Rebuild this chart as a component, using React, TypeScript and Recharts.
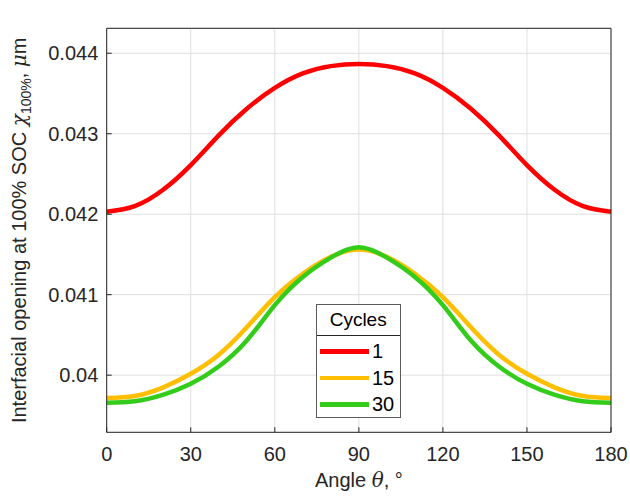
import { LineChart, Line, XAxis, YAxis, CartesianGrid, Legend, Label } from 'recharts'

const angles = [0, 10, 20, 30, 40, 50, 60, 70, 80, 90, 100, 110, 120, 130, 140, 150, 160, 170, 180]

const cycle1 = [
  0.04203, 0.0421, 0.0423, 0.04261, 0.04298, 0.04331, 0.04357, 0.04375, 0.04384, 0.043865,
  0.04384, 0.04375, 0.04357, 0.04331, 0.04298, 0.04261, 0.0423, 0.0421, 0.04203,
]
const cycle15 = [
  0.039717, 0.039742, 0.039846, 0.040017, 0.040254, 0.040595, 0.04097, 0.04126, 0.04147, 0.04156,
  0.04147, 0.04126, 0.04097, 0.040595, 0.040254, 0.040017, 0.039846, 0.039742, 0.039717,
]
const cycle30 = [
  0.039658, 0.039675, 0.039754, 0.039892, 0.040108, 0.04043, 0.04087, 0.04122, 0.04146, 0.041589,
  0.04146, 0.04122, 0.04087, 0.04043, 0.040108, 0.039892, 0.039754, 0.039675, 0.039658,
]

const xTicks = [0, 30, 60, 90, 120, 150, 180]
const yTicks = [0.04, 0.041, 0.042, 0.043, 0.044]

const series = [
  { key: 'c1', name: '1', color: '#FF0000' },
  { key: 'c15', name: '15', color: '#FFBF00' },
  { key: 'c30', name: '30', color: '#33CC1A' },
]

const data = angles.map((a, i) => ({ angle: a, c1: cycle1[i], c15: cycle15[i], c30: cycle30[i] }))

const FONT = '"Liberation Sans", Arial, Helvetica, sans-serif'
const AX = '#262626'

const renderLegend = (props: any) => {
  const { payload } = props
  return (
    <div
      style={{
        width: 85,
        height: 114,
        boxSizing: 'border-box',
        border: '1px solid #5a5a5a',
        background: '#fff',
        fontFamily: FONT,
        color: '#000',
      }}
    >
      <div
        style={{
          height: 30,
          lineHeight: '30px',
          fontSize: 19,
          textAlign: 'center',
          borderBottom: '1px solid #262626',
        }}
      >
        Cycles
      </div>
      <div style={{ paddingTop: 2 }}>
        {(payload || []).map((p: any) => (
          <div key={p.value} style={{ display: 'flex', alignItems: 'center', height: 26.5 }}>
            <div style={{ marginLeft: 3.3, width: 49, height: 4.5, background: p.color }} />
            <span style={{ marginLeft: 3, fontSize: 20 }}>{p.value}</span>
          </div>
        ))}
      </div>
    </div>
  )
}

export default function App() {
  return (
    <div style={{ position: 'absolute', left: 0, top: 0, background: '#fff' }}>
      <LineChart
        width={630}
        height={497}
        data={data}
        margin={{ top: 27.3, right: 18, bottom: 34.7, left: 0 }}
        style={{ fontFamily: FONT }}
      >
        <CartesianGrid stroke="#dfdfdf" strokeWidth={1} />
        <XAxis
          dataKey="angle"
          type="number"
          domain={[0, 180]}
          ticks={xTicks}
          interval={0}
          height={30}
          tickSize={-5}
          tickMargin={19.4}
          stroke={AX}
          tick={{ fill: AX, fontSize: 20 }}
        >
          <Label
            content={() => (
              <text x={358.9} y={487} textAnchor="middle" fontSize={20} fill={AX} fontFamily={FONT}>
                Angle <tspan fontStyle="italic" fontFamily="'DejaVu Serif', serif">θ</tspan>, °
              </text>
            )}
          />
        </XAxis>
        <XAxis
          xAxisId="top"
          orientation="top"
          dataKey="angle"
          type="number"
          domain={[0, 180]}
          ticks={xTicks}
          interval={0}
          height={1}
          tickSize={-5}
          stroke={AX}
          tick={false}
        />
        <YAxis
          type="number"
          domain={[0.03929, 0.04431]}
          ticks={yTicks}
          interval={0}
          width={106.7}
          tickSize={-5}
          tickMargin={13.4}
          stroke={AX}
          tick={{ fill: AX, fontSize: 20 }}
          tickFormatter={(v: number) => String(+v.toFixed(3))}
        >
          <Label
            content={() => (
              <text
                x={26}
                y={230.3}
                transform="rotate(-90, 26, 230.3)"
                textAnchor="middle"
                fontSize={20}
                fill={AX}
                fontFamily={FONT}
              >
                Interfacial opening at 100% SOC{' '}
                <tspan fontStyle="italic" fontFamily="'DejaVu Serif', serif">χ</tspan>
                <tspan fontSize={14} dy={5}>100%</tspan>
                <tspan dy={-5}>, </tspan>
                <tspan fontStyle="italic" fontFamily="'DejaVu Serif', serif">μ</tspan>m
              </text>
            )}
          />
        </YAxis>
        <YAxis
          yAxisId="right"
          orientation="right"
          type="number"
          domain={[0.03929, 0.04431]}
          ticks={yTicks}
          interval={0}
          width={1}
          tickSize={-5}
          stroke={AX}
          tick={false}
        />
        {series.map((s) => (
          <Line
            key={s.key}
            dataKey={s.key}
            name={s.name}
            type="natural"
            stroke={s.color}
            strokeWidth={4.5}
            dot={false}
            activeDot={false}
            isAnimationActive={false}
          />
        ))}
        <Legend
          layout="vertical"
          align="center"
          verticalAlign="middle"
          content={renderLegend}
          wrapperStyle={{ left: 315.7, top: 304.3, width: 85, height: 114 }}
        />
      </LineChart>
    </div>
  )
}
